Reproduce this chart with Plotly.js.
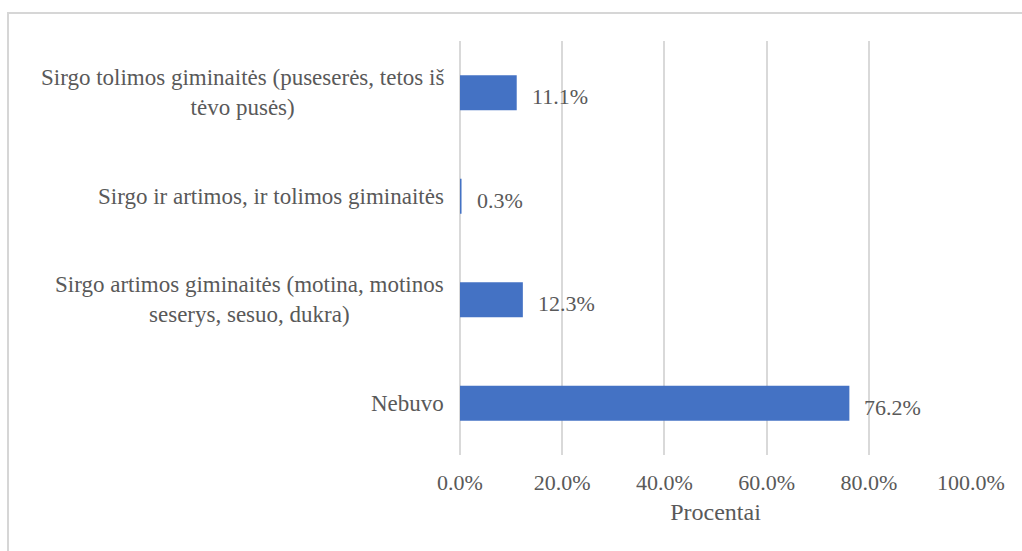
<!DOCTYPE html>
<html>
<head>
<meta charset="utf-8">
<script src="https://cdn.plot.ly/plotly-3.0.1.min.js"></script>
<style>
  html, body { margin: 0; padding: 0; background: #fff; overflow: hidden; }
  #wrap { position: relative; width: 1022px; height: 551px; }
  #chart { width: 1022px; height: 551px; }
  #frame { position: absolute; left: 7px; top: 12px; width: 1040px; height: 600px;
           border: 2px solid #d6d6d6; pointer-events: none; box-sizing: border-box; }
</style>
</head>
<body>
<div id="wrap">
  <div id="chart"></div>
  <div id="frame"></div>
</div>
<script>
// Categories listed bottom to top
const categories = [
  "Nebuvo",
  "Sirgo artimos giminaitės (motina, motinos<br>seserys, sesuo, dukra)",
  "Sirgo ir artimos, ir tolimos giminaitės",
  "Sirgo tolimos giminaitės (puseserės, tetos iš<br>tėvo pusės)"
];
const values = [76.2, 12.3, 0.3, 11.1];
const valueLabels = ["76.2%", "12.3%", "0.3%", "11.1%"];
const xTickValues = [0, 20, 40, 60, 80, 100];
const xTickLabels = ["0.0%", "20.0%", "40.0%", "60.0%", "80.0%", "100.0%"];
const xAxisTitle = "Procentai";

const textColor = "#595959";
const fontFamily = "Liberation Serif";

const trace = {
  type: "bar",
  orientation: "h",
  x: values,
  y: categories,
  width: 0.34,
  marker: { color: "#4472C4" },
  hoverinfo: "skip"
};

const annotations = [];
categories.forEach((c, i) => {
  annotations.push({
    xref: "paper", yref: "y", x: 0, y: c,
    xanchor: "right", yanchor: "middle", xshift: -14,
    text: c, showarrow: false, align: "center",
    font: { family: fontFamily, size: 23, color: textColor }
  });
  annotations.push({
    xref: "x", yref: "y", x: values[i], y: c,
    xanchor: "left", yanchor: "middle", xshift: 13, yshift: -4,
    text: valueLabels[i], showarrow: false,
    font: { family: fontFamily, size: 22, color: textColor }
  });
});

const layout = {
  width: 1022,
  height: 551,
  margin: { l: 460, r: 51, t: 41, b: 96 },
  paper_bgcolor: "rgba(0,0,0,0)",
  plot_bgcolor: "#ffffff",
  font: { family: fontFamily, color: textColor },
  showlegend: false,
  xaxis: {
    range: [0, 100],
    tickmode: "array",
    tickvals: xTickValues,
    ticktext: xTickLabels,
    showgrid: true,
    gridcolor: "#d9d9d9",
    gridwidth: 2,
    zeroline: true,
    zerolinecolor: "#d9d9d9",
    zerolinewidth: 2,
    showline: false,
    ticks: "",
    ticklabelstandoff: 12,
    tickfont: { family: fontFamily, size: 22, color: textColor },
    title: { text: xAxisTitle, standoff: 9, font: { family: fontFamily, size: 24, color: textColor } },
    fixedrange: true
  },
  yaxis: {
    type: "category",
    categoryorder: "array",
    categoryarray: categories,
    range: [-0.5, 3.5],
    showticklabels: false,
    showgrid: false,
    zeroline: false,
    showline: false,
    ticks: "",
    fixedrange: true
  },
  annotations: annotations
};

Plotly.newPlot("chart", [trace], layout, { displayModeBar: false, staticPlot: true });
</script>
</body>
</html>
